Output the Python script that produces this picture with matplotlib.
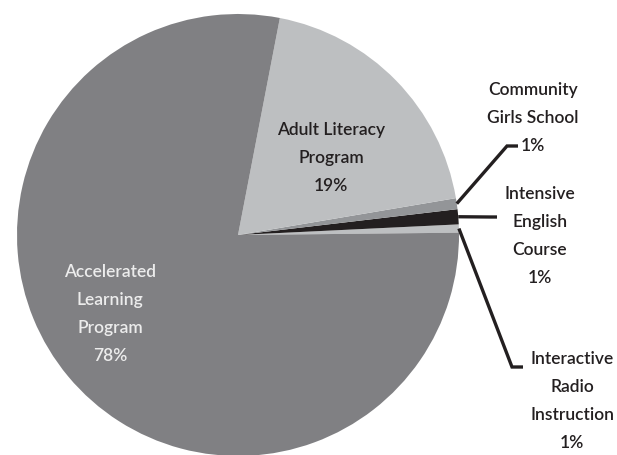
import numpy as np
import matplotlib
matplotlib.use("Agg")
from matplotlib import pyplot as plt

# slices listed counterclockwise from the 3 o'clock position
programs = ["Interactive Radio Instruction", "Intensive English Course",
            "Community Girls School", "Adult Literacy Program",
            "Accelerated Learning Program"]
shares = [0.6, 1.1, 0.8, 19.3, 78.2]
pct_labels = ["1%", "1%", "1%", "19%", "78%"]
label_text = ["Interactive\nRadio\nInstruction", "Intensive\nEnglish\nCourse",
              "Community\nGirls School", "Adult Literacy\nProgram",
              "Accelerated\nLearning\nProgram"]
colors = ["#bdbfc1", "#231f20", "#939598", "#bdbfc1", "#808083"]

W, H = 617, 456
fig = plt.figure(figsize=(W / 100, H / 100), dpi=100)
ax = fig.add_axes([0, 0, 1, 1])

cx, cy, r = 238, H - 236, 221
wedges, _ = ax.pie(shares, colors=colors, startangle=0.6, counterclock=True,
                   center=(cx, cy), radius=r, wedgeprops=dict(linewidth=0))
ax.set_xlim(0, W)
ax.set_ylim(0, H)
ax.axis("off")

font = dict(family=["Lato", "DejaVu Sans"], fontsize=12.5, fontweight="semibold",
            ha="center", va="center", linespacing=1.9)

# label positions in pixel space (x, y from top)
label_pos = [(572, 401), (540, 236), (533, 118), (331, 158), (110, 314)]
text_colors = ["#231f20", "#231f20", "#231f20", "#231f20", "#ececec"]
for txt, pct, (px, py), tc in zip(label_text, pct_labels, label_pos, text_colors):
    ax.text(px, H - py, txt + "\n" + pct, color=tc, **font)

# leader lines for the thin slices: wedge edge -> elbow -> end
elbows = {0: [(512, 368), (523, 368)],
          1: [(490, 218), (497, 218)],
          2: [(507, 147), (518, 147)]}
for i, pts in elbows.items():
    w = wedges[i]
    mid = np.deg2rad((w.theta1 + w.theta2) / 2)
    x0 = cx + r * np.cos(mid)
    y0 = cy + r * np.sin(mid)
    xs = [x0] + [p[0] for p in pts]
    ys = [y0] + [H - p[1] for p in pts]
    ax.plot(xs, ys, color="#231f20", lw=2.4, solid_joinstyle="miter",
            solid_capstyle="butt")

fig.savefig("out.png", dpi=100)
